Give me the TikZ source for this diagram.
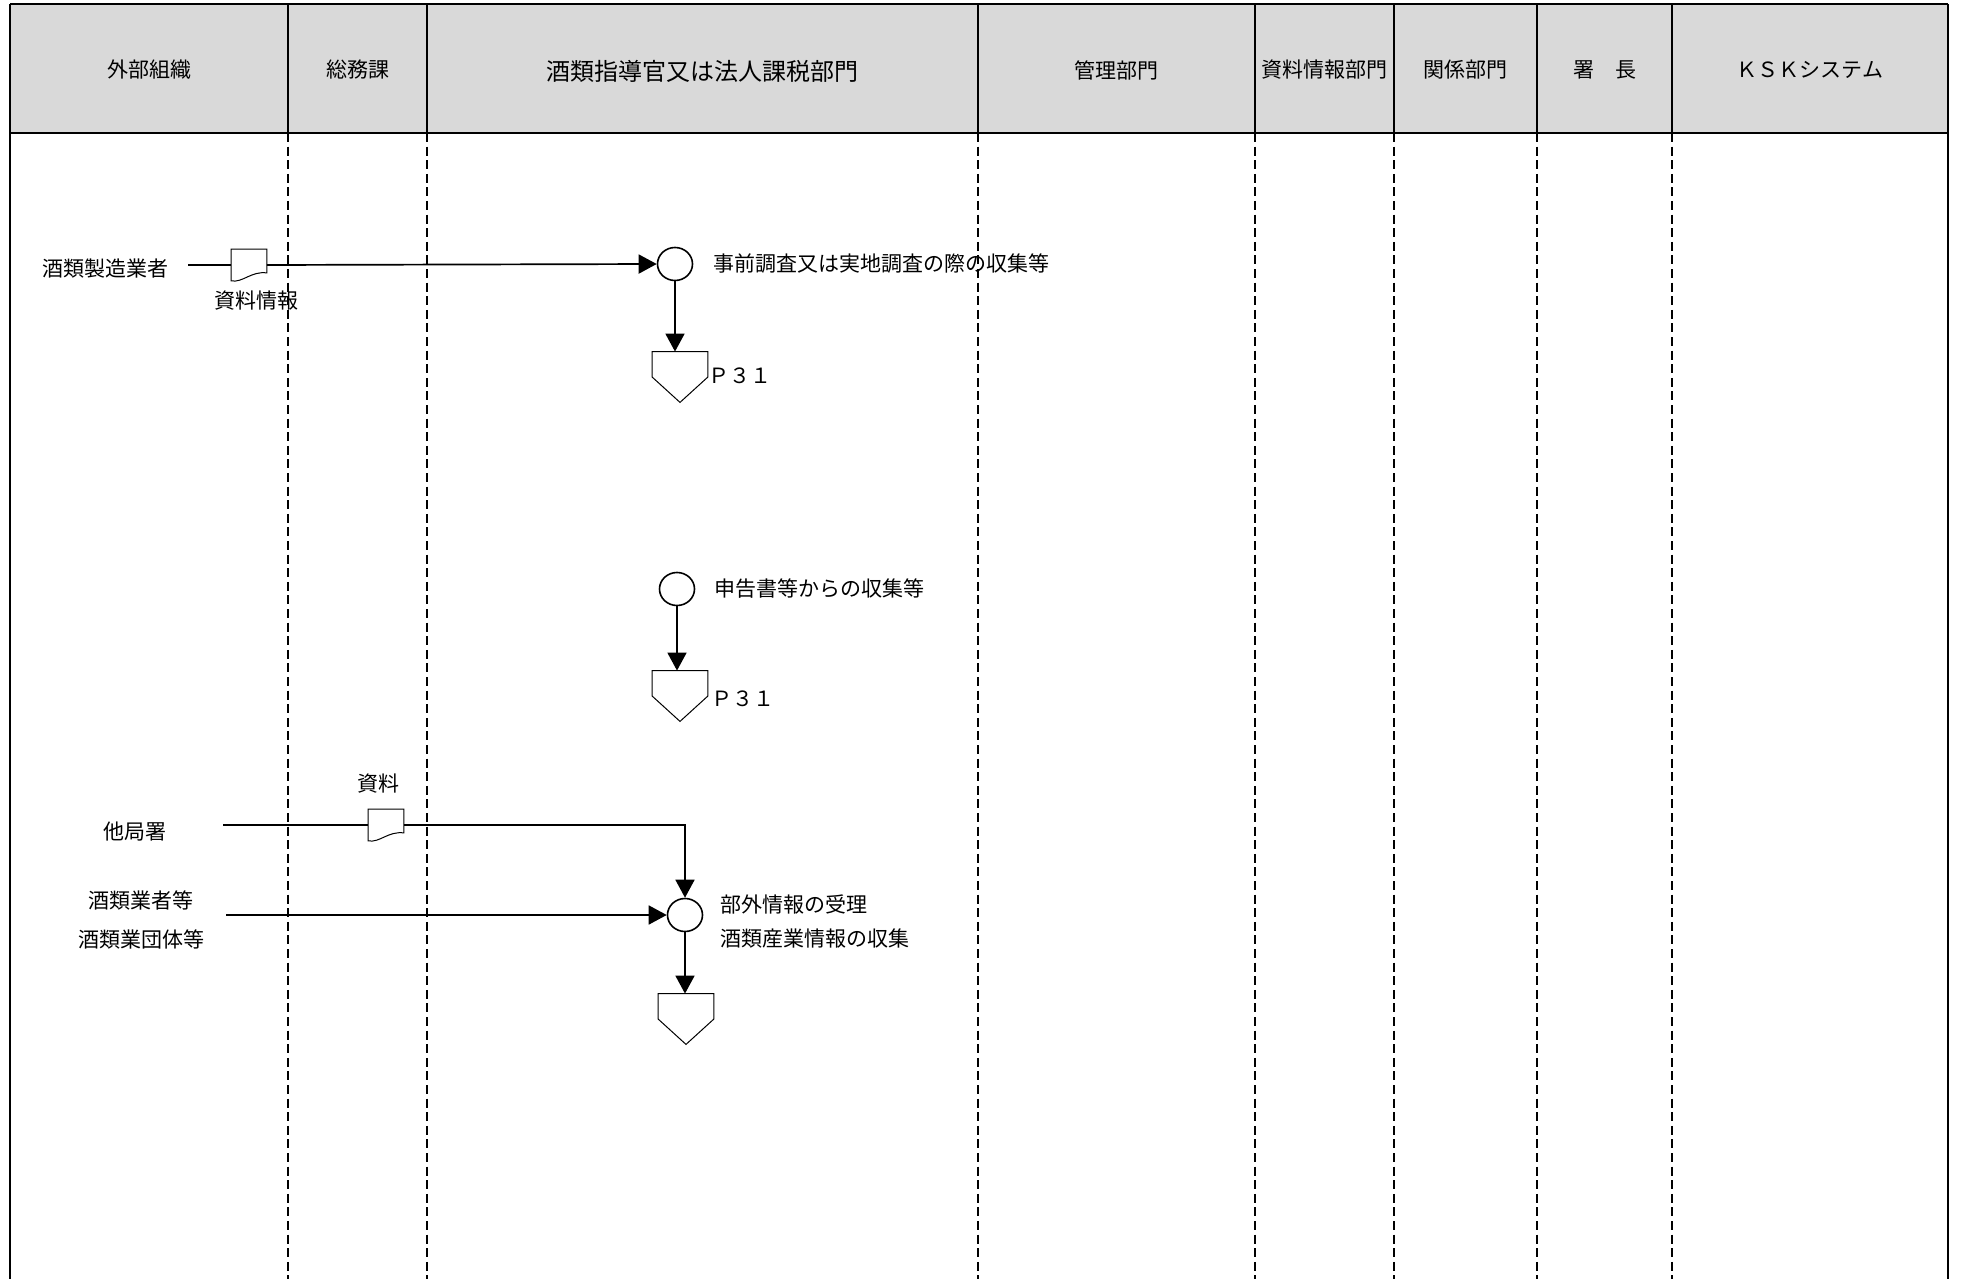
\documentclass[tikz,border=0pt]{standalone}
\usepackage{fontspec}
\setmainfont{Noto Sans CJK JP}
\usetikzlibrary{arrows.meta,shapes.geometric}
\definecolor{hdrgray}{HTML}{D9D9D9}
\begin{document}
\begin{tikzpicture}[x=0.5pt,y=-0.5pt,
  hdr/.style={font=\fontsize{10.5}{12}\selectfont, inner sep=0pt},
  hdrbig/.style={font=\fontsize{12}{14}\selectfont, inner sep=0pt},
  lbl/.style={font=\fontsize{10.5}{12}\selectfont, inner sep=0pt},
  conn/.style={line width=0.85pt},
  arr/.style={conn,-{Triangle[length=9pt,width=9.5pt]}},
  lane/.style={line width=0.9pt, dash pattern=on 4.5pt off 2.3pt},
  border/.style={line width=1pt},
  proc/.style={ellipse, draw, line width=0.8pt, minimum width=17.5pt, minimum height=16.5pt, inner sep=0pt},
  docbox/.style={rectangle, draw=none, minimum width=17.5pt, minimum height=15.5pt, inner sep=0pt},
  pentbox/.style={rectangle, draw=none, minimum width=27.5pt, minimum height=25pt, inner sep=0pt},
  shapeline/.style={line width=0.5pt}
]
\useasboundingbox (0,0) rectangle (1961,1279);

% header
\fill[hdrgray] (10,4) rectangle (1948,133);
\draw[border] (10,4) -- (1948,4);
\draw[border] (10,133) -- (1948,133);
\draw[border] (10,4) -- (10,1279);
\draw[border] (1948,4) -- (1948,1279);
\foreach \x in {288,427,978,1255,1394,1537,1672} {
  \draw[line width=0.8pt] (\x,4) -- (\x,133);
  \draw[lane] (\x,133) -- (\x,1279);
}

\node[hdr] (h1) at (149,70) {外部組織};
\node[hdr] (h2) at (357.5,70) {総務課};
\node[hdrbig] (h3) at (702.5,71) {酒類指導官又は法人課税部門};
\node[hdr] (h4) at (1116.5,70) {管理部門};
\node[hdr] (h5) at (1324.5,70) {資料情報部門};
\node[hdr] (h6) at (1465.5,70) {関係部門};
\node[hdr] (h7) at (1604.5,70) {署　長};
\node[hdr] (h8) at (1810,70) {ＫＳＫシステム};

% flow 1
\node[lbl] (s1) at (105,269) {酒類製造業者};
\coordinate (s1e) at (188,265);
\node[docbox] (d1) at (249,265) {};
\draw[shapeline, fill=white] (d1.north west) -- (d1.north east) -- ([yshift=4pt]d1.south east)
  .. controls ([xshift=-8pt,yshift=5pt]d1.south east) and ([xshift=6pt,yshift=-1pt]d1.south west) .. (d1.south west) -- cycle;
\node[lbl] (d1t) at (256,301) {資料情報};
\node[proc] (c1) at (675,264) {};
\node[lbl, anchor=west] (c1t) at (713,264) {事前調査又は実地調査の際の収集等};
\node[pentbox] (p1) at (680,377) {};
\draw[shapeline] (p1.north west) -- (p1.north east) -- (p1.east) -- (p1.south) -- (p1.west) -- cycle;
\node[lbl, anchor=west] (p1t) at (708,376) {Ｐ３１};
\draw[conn] (s1e) -- (d1.west);
\draw[arr] (d1.east) -- (c1.west);
\draw[arr] (c1.south) -- (c1.south |- p1.north);

% flow 2
\node[proc] (c2) at (677,589) {};
\node[lbl, anchor=west] (c2t) at (714,589) {申告書等からの収集等};
\node[pentbox] (p2) at (680,696) {};
\draw[shapeline] (p2.north west) -- (p2.north east) -- (p2.east) -- (p2.south) -- (p2.west) -- cycle;
\node[lbl, anchor=west] (p2t) at (711,699) {Ｐ３１};
\draw[arr] (c2.south) -- (c2.south |- p2.north);

% flow 3
\node[lbl] (d2t) at (378,784) {資料};
\node[lbl] (s3) at (135,832) {他局署};
\coordinate (s3e) at (223,825);
\node[docbox] (d2) at (386,825) {};
\draw[shapeline, fill=white] (d2.north west) -- (d2.north east) -- ([yshift=4pt]d2.south east)
  .. controls ([xshift=-8pt,yshift=5pt]d2.south east) and ([xshift=6pt,yshift=-1pt]d2.south west) .. (d2.south west) -- cycle;
\node[proc] (c3) at (685,915) {};
\node[lbl, anchor=west] (c3t1) at (720,904) {部外情報の受理};
\node[lbl, anchor=west] (c3t2) at (720,939) {酒類産業情報の収集};
\node[lbl] (s4a) at (141,900) {酒類業者等};
\node[lbl] (s4b) at (141,939) {酒類業団体等};
\coordinate (s4e) at (226,915);
\node[pentbox] (p3) at (686,1019) {};
\draw[shapeline] (p3.north west) -- (p3.north east) -- (p3.east) -- (p3.south) -- (p3.west) -- cycle;
\draw[conn] (s3e) -- (d2.west);
\draw[arr] (d2.east) -| (c3.north);
\draw[arr] (s4e) -- (c3.west);
\draw[arr] (c3.south) -- (c3.south |- p3.north);
\end{tikzpicture}
\end{document}
